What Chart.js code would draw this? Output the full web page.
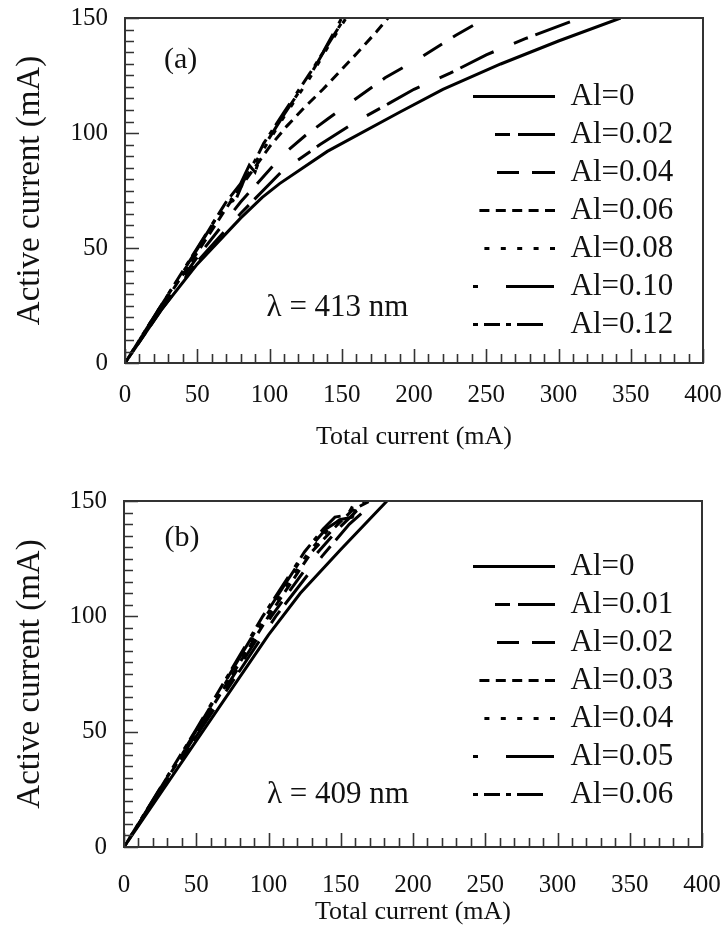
<!DOCTYPE html>
<html>
<head>
<meta charset="utf-8">
<script src="https://cdn.jsdelivr.net/npm/chart.js@4.4.1/dist/chart.umd.min.js"></script>
<style>
  html, body { margin: 0; padding: 0; background: #fff; }
  .panel { position: absolute; left: 0; width: 725px; }
  #pa { top: 0; height: 466px; }
  #pb { top: 466px; height: 467px; }
</style>
</head>
<body>
<div class="panel" id="pa"><canvas id="chartA" width="725" height="466"></canvas></div>
<div class="panel" id="pb"><canvas id="chartB" width="725" height="467"></canvas></div>
<script>
// ── Axes ──
const xTicks = [0, 50, 100, 150, 200, 250, 300, 350, 400];
const yTicks = [0, 50, 100, 150];
const xTitle = 'Total current (mA)';
const yTitle = 'Active current (mA)';

// ── Panel (a), λ = 413 nm ──
const aLabels = ['Al=0', 'Al=0.02', 'Al=0.04', 'Al=0.06', 'Al=0.08', 'Al=0.10', 'Al=0.12'];
const aX0 = [0, 25, 50, 80, 95, 107, 140, 190, 220, 260, 300, 343];
const aY0 = [0, 23, 43, 63, 72, 78, 92, 109, 119, 130, 140, 150];
const aX1 = [0, 25, 50, 80, 108, 135, 160, 183, 200, 225, 250, 277, 315];
const aY1 = [0, 23, 44, 65, 83, 95, 105, 113, 119, 126, 134, 141, 150];
const aX2 = [0, 25, 50, 80, 110, 125, 140, 160, 180, 205, 229, 250];
const aY2 = [0, 24, 46, 70, 91, 99, 106, 115, 124, 133, 142.5, 150];
const aX3 = [0, 25, 50, 75, 100, 112, 124, 137, 149, 161, 174, 182];
const aY3 = [0, 24, 48, 72, 94, 103, 111, 119, 127, 135, 144, 150];
const aX4 = [0, 25, 50, 70, 76, 80, 96, 110, 128, 140, 153];
const aY4 = [0, 25, 49, 69, 71, 77, 93, 107, 124, 137, 150];
const aX5 = [0, 25, 50, 70, 80, 86, 90, 96, 110, 128, 140, 152];
const aY5 = [0, 25, 49.5, 70, 78, 86, 83, 94, 108, 125, 138, 150];
const aX6 = [0, 25, 50, 68, 72, 76, 82, 90, 96, 110, 128, 137, 150];
const aY6 = [0, 25, 50, 68, 72, 70, 79, 88, 95.5, 109, 126, 135, 150];

// ── Panel (b), λ = 409 nm ──
const bLabels = ['Al=0', 'Al=0.01', 'Al=0.02', 'Al=0.03', 'Al=0.04', 'Al=0.05', 'Al=0.06'];
const bX0 = [0, 50, 100, 122, 150, 182];
const bY0 = [0, 46, 92, 110, 129, 150];
const bX1 = [0, 50, 105, 137, 156, 174];
const bY1 = [0, 48, 100, 126, 140, 150];
const bX2 = [0, 50, 102, 133, 150, 168];
const bY2 = [0, 49, 100, 127, 139, 150];
const bX3 = [0, 50, 100, 130, 145, 158, 170];
const bY3 = [0, 49.5, 100, 128, 138, 146, 150];
const bX4 = [0, 50, 98, 128, 142, 155, 166];
const bY4 = [0, 50, 100, 128, 138, 145, 150];
const bX5 = [0, 50, 97, 126, 140, 150, 158, 163];
const bY5 = [0, 50.5, 100, 128, 138, 142, 143, 150];
const bX6 = [0, 50, 96, 125, 138, 146, 155, 160];
const bY6 = [0, 51, 100, 128, 138, 143, 144, 150];

// line patterns (and their start offsets), same order as the legends
const dashes = [[], [15, 8, 37, 22], [22, 13, 23, 24], [10, 6.4], [5, 11.4], [5, 28, 48, 1], [5, 6, 16, 6, 5, 6, 26, 12]];
const dashOffsets = [0, 60, 58, 10, 5, 0, 0];

const FONT = "'Liberation Serif', 'Times New Roman', serif";
const INK = '#111';

function pts(xs, ys) { return xs.map((x, i) => ({ x: x, y: ys[i] })); }

function makeSets(labels, xsList, ysList) {
  return labels.map((lab, i) => ({
    label: lab,
    data: pts(xsList[i], ysList[i]),
    borderColor: '#000',
    backgroundColor: '#000',
    borderWidth: 3,
    borderDash: dashes[i],
    borderDashOffset: dashOffsets[i],
    pointRadius: 0,
    pointStyle: 'line',
    tension: 0,
    fill: false
  }));
}

// legend samples keep the dash of their line
function dashedLabels(chart) {
  const items = Chart.defaults.plugins.legend.labels.generateLabels(chart);
  items.forEach(it => {
    const ds = chart.data.datasets[it.datasetIndex];
    it.lineDash = ds.borderDash;
    it.lineDashOffset = ds.borderDashOffset;
    it.lineWidth = ds.borderWidth;
    it.strokeStyle = ds.borderColor;
  });
  return items;
}

// frame, inward ticks, legend placement and the in-plot notes
const framePlugin = {
  id: 'frame',
  afterLayout(chart, args, o) {
    const lg = chart.legend;
    lg.left = o.legendLeft;
    lg.right = chart.chartArea.right;
    lg.top = o.legendTop;
    lg.bottom = chart.chartArea.bottom;
  },
  afterDraw(chart, args, o) {
    const { ctx, chartArea: a, scales: { x, y } } = chart;
    ctx.save();
    ctx.strokeStyle = '#333';
    ctx.lineWidth = 2;
    ctx.strokeRect(a.left, a.top, a.width, a.height);
    ctx.lineWidth = 1.6;
    ctx.beginPath();
    for (let v = 0; v <= 400; v += 10) {
      const px = Math.round(x.getPixelForValue(v)) + 0.5;
      const len = v % 50 === 0 ? 14 : 9;
      ctx.moveTo(px, a.bottom);
      ctx.lineTo(px, a.bottom - len);
    }
    for (let v = 0; v <= 150; v += 5) {
      const py = Math.round(y.getPixelForValue(v)) + 0.5;
      const len = v % 50 === 0 ? 14 : 9;
      ctx.moveTo(a.left, py);
      ctx.lineTo(a.left + len, py);
    }
    ctx.stroke();
    ctx.fillStyle = INK;
    ctx.textBaseline = 'middle';
    ctx.textAlign = 'left';
    o.notes.forEach(n => {
      ctx.font = n.size + 'px ' + FONT;
      ctx.fillText(n.text, x.getPixelForValue(n.x), y.getPixelForValue(n.y));
    });
    ctx.restore();
  }
};

function noPad(s) { s.paddingTop = 0; s.paddingBottom = 0; s.paddingLeft = 0; s.paddingRight = 0; }

function makeChart(id, datasets, c) {
  return new Chart(document.getElementById(id), {
    type: 'line',
    data: { datasets: datasets },
    plugins: [framePlugin],
    options: {
      responsive: false,
      animation: false,
      layout: { padding: { left: 0, right: c.padRight, top: c.padTop, bottom: 0 } },
      scales: {
        x: {
          type: 'linear', min: 0, max: 400,
          afterBuildTicks: s => { s.ticks = xTicks.map(v => ({ value: v })); },
          afterFit: s => { s.height = c.xHeight; noPad(s); },
          grid: { display: false, drawTicks: false },
          border: { display: false },
          ticks: { color: INK, padding: c.xLabelPad, font: { family: FONT, size: 25 }, maxRotation: 0 },
          title: { display: true, text: xTitle, color: INK, font: { family: FONT, size: 26 }, padding: { top: 0, bottom: c.xTitlePad } }
        },
        y: {
          type: 'linear', min: 0, max: 150,
          afterBuildTicks: s => { s.ticks = yTicks.map(v => ({ value: v })); },
          afterFit: s => { s.width = c.yWidth; noPad(s); },
          grid: { display: false, drawTicks: false },
          border: { display: false },
          ticks: { color: INK, padding: 17, font: { family: FONT, size: 25 } },
          title: { display: true, text: yTitle, color: INK, font: { family: FONT, size: 33 }, padding: { top: 11, bottom: 0 } }
        }
      },
      plugins: {
        tooltip: { enabled: false },
        legend: {
          position: 'chartArea',
          align: 'start',
          labels: {
            usePointStyle: true,
            pointStyle: 'line',
            pointStyleWidth: 82,
            padding: 7,
            color: INK,
            font: { family: FONT, size: 31 },
            generateLabels: dashedLabels
          }
        },
        frame: { legendLeft: c.legendLeft, legendTop: c.legendTop, notes: c.notes }
      }
    }
  });
}

makeChart('chartA', makeSets(aLabels, [aX0, aX1, aX2, aX3, aX4, aX5, aX6], [aY0, aY1, aY2, aY3, aY4, aY5, aY6]), {
  padRight: 22, padTop: 18, xHeight: 103, yWidth: 125,
  xLabelPad: 17, xTitlePad: 13,
  legendLeft: 466, legendTop: 74,
  notes: [
    { text: '(a)', x: 27, y: 131.5, size: 30 },
    { text: 'λ = 413 nm', x: 98, y: 24, size: 31 }
  ]
});

makeChart('chartB', makeSets(bLabels, [bX0, bX1, bX2, bX3, bX4, bX5, bX6], [bY0, bY1, bY2, bY3, bY4, bY5, bY6]), {
  padRight: 23, padTop: 35, xHeight: 86, yWidth: 124,
  xLabelPad: 23, xTitlePad: 5,
  legendLeft: 466, legendTop: 78,
  notes: [
    { text: '(b)', x: 28, y: 134, size: 30 },
    { text: 'λ = 409 nm', x: 99, y: 22.5, size: 31 }
  ]
});
</script>
</body>
</html>
